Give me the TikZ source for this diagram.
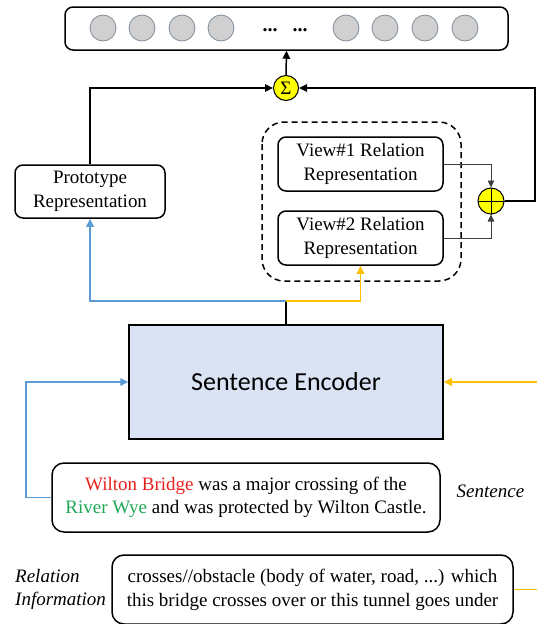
\documentclass[tikz,border=0pt]{standalone}
\usepackage{fontspec}
\setmainfont{Liberation Serif}
\newfontfamily\carlitofont{Carlito}
\usetikzlibrary{arrows.meta}
\definecolor{encblue}{HTML}{DAE3F3}
\definecolor{lineblue}{HTML}{5B9BD5}
\definecolor{lineyel}{HTML}{FFC000}
\definecolor{sumyel}{HTML}{FFFF00}
\definecolor{txtred}{HTML}{E8231F}
\definecolor{txtgreen}{HTML}{1FA855}
\definecolor{cellgray}{HTML}{D0D0D0}
\definecolor{celledge}{HTML}{7F8C99}
\tikzset{
  rbox/.style={draw=black, line width=1.5pt, rounded corners=8pt, align=center, inner sep=0pt,
    font=\fontsize{19}{24}\selectfont},
  cell/.style={circle, draw=celledge, fill=cellgray, line width=0.8pt, minimum size=26pt, inner sep=0pt},
  opcirc/.style={circle, draw=black, fill=sumyel, line width=1pt, minimum size=25pt, inner sep=0pt},
  blk/.style={draw=black, line width=1.5pt},
  arr/.style={blk, -{Triangle[length=8pt,width=7.5pt]}},
  thin/.style={draw=black!75, line width=0.8pt, -{Triangle[length=7pt,width=6.5pt]}},
  bluearr/.style={draw=lineblue, line width=1.8pt, -{Triangle[length=8pt,width=7.5pt]}},
  yelarr/.style={draw=lineyel, line width=1.8pt, -{Triangle[length=8pt,width=7.5pt]}},
  sidelabel/.style={font=\fontsize{19}{23}\selectfont\itshape, align=left, inner sep=0pt},
  dotstxt/.style={font=\fontsize{20}{20}\selectfont\bfseries, inner sep=0pt, anchor=base}
}
\begin{document}
\begin{tikzpicture}[x=1pt,y=-1pt]
\clip (0,0) rectangle (537,624);
\fill[white] (0,0) rectangle (537,624);
% top vector
\node[rbox, minimum width=443pt, minimum height=43pt] (top) at (286.5,28.5) {};
\foreach \i/\x in {1/103,2/142,3/182,4/221,5/346,6/385,7/425,8/465}
  \node[cell] (c\i) at (\x,28) {};
\node[dotstxt] (d1) at (270,31) {...};
\node[dotstxt] (d2) at (300,31) {...};
% sum
\node[opcirc] (sig) at (286,88) {\fontsize{19}{19}\selectfont Σ};
\draw[arr] (sig.north) -- (top.south);
% prototype
\node[rbox, minimum width=150pt, minimum height=53pt] (proto) at (90,191.5) {Prototype\\Representation};
% dashed group
\draw[black, line width=1.5pt, dash pattern=on 6pt off 4pt, rounded corners=22pt] (262,122) rectangle (461,281);
\node[rbox, minimum width=165pt, minimum height=54pt] (v1) at (360.5,164) {View\#1 Relation\\Representation};
\node[rbox, minimum width=165pt, minimum height=54pt] (v2) at (360.5,238) {View\#2 Relation\\Representation};
% oplus
\node[opcirc, minimum size=26pt] (opl) at (491,201) {};
\draw[black, line width=1pt] (opl.north) -- (opl.south) (opl.west) -- (opl.east);
\draw[thin] (v1.east) -| (opl.north);
\draw[thin] (v2.east) -| (opl.south);
% feed to sum
\coordinate (rc) at (535,88);
\draw[arr] (opl.east) -| (rc) -- (sig.east);
\draw[arr] (proto.north) |- (sig.west);
% encoder
\node[draw=black, line width=1.5pt, fill=encblue, minimum width=314pt, minimum height=114pt, inner sep=0pt,
  font=\carlitofont\fontsize{26}{30}\selectfont] (enc) at (286,382) {Sentence Encoder};
\coordinate (jn) at (286,301);
\draw[blk] (enc.north) -- (jn);
\draw[bluearr] (jn) -| (proto.south);
\draw[yelarr] (jn) -| (v2.south);
% sentence
\node[rbox, rounded corners=12pt, minimum width=388pt, minimum height=69pt, font=\fontsize{19}{23}\selectfont] (sent) at (246,497.5)
  {\textcolor{txtred}{Wilton Bridge} was a major crossing of the\\\textcolor{txtgreen}{River Wye} and was protected by Wilton Castle.};
\node[sidelabel] (slab) at (490.5,491) {Sentence};
\coordinate (bl) at (26,382);
\draw[bluearr] (sent.west) -| (bl) -- (enc.west);
% relation
\node[rbox, rounded corners=12pt, minimum width=401pt, minimum height=69pt, font=\fontsize{19}{24}\selectfont] (rel) at (312.5,589.5)
  {crosses//obstacle (body of water, road, ...) which\\this bridge crosses over or this tunnel goes under};
\node[sidelabel, anchor=west] (rlab) at (15,589.5) {Relation\\Information};
\coordinate (yr) at (541,382);
\draw[yelarr] (rel.east) -| (yr) -- (enc.east);
\end{tikzpicture}
\end{document}
